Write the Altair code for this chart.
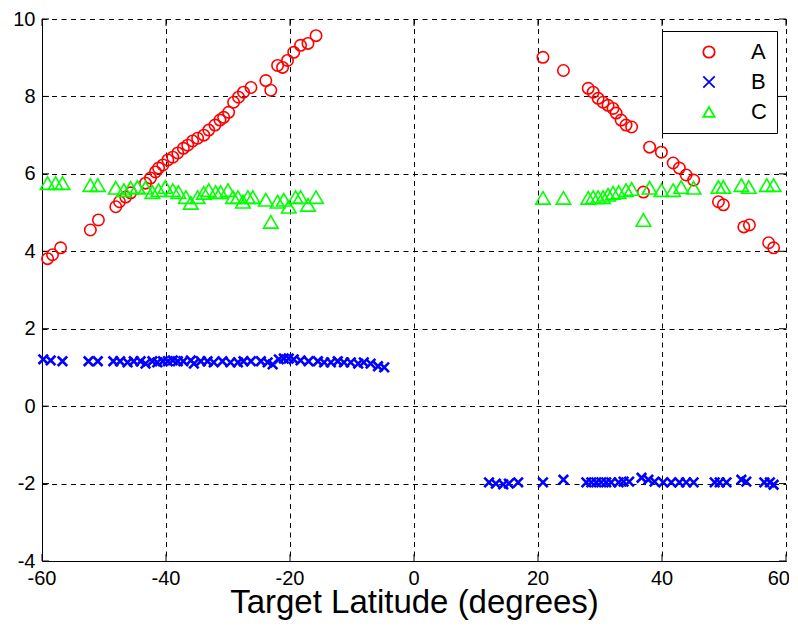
import altair as alt
import pandas as pd

series_names = ["A", "B", "C"]

a_lat = [-59.1, -58.3, -57.0, -52.2, -50.9, -48.1, -47.5, -46.5, -45.7, -43.3,
         -42.5, -41.7, -41.2, -40.5, -39.7, -38.9, -38.1, -37.2, -36.5, -35.7,
         -34.9, -33.9, -33.1, -32.1, -31.3, -30.7, -29.9, -29.1, -28.3, -27.5,
         -26.3, -23.9, -23.1, -22.0, -21.2, -20.4, -19.4, -18.3, -17.1, -15.8,
         20.8, 24.1, 28.1, 28.9, 29.7, 30.5, 31.3, 32.1, 32.6, 33.4,
         34.2, 35.1, 37.0, 38.0, 39.9, 41.8, 42.8, 43.9, 45.1, 49.1,
         49.9, 53.2, 54.1, 57.2, 58.0]
a_val = [3.81, 3.91, 4.09, 4.55, 4.81, 5.15, 5.28, 5.40, 5.51, 5.76,
         5.89, 6.05, 6.15, 6.23, 6.36, 6.43, 6.54, 6.66, 6.74, 6.85,
         6.92, 7.00, 7.13, 7.26, 7.39, 7.46, 7.59, 7.85, 7.98, 8.11,
         8.23, 8.41, 8.16, 8.80, 8.75, 8.93, 9.14, 9.32, 9.37, 9.57,
         9.01, 8.67, 8.21, 8.11, 7.95, 7.85, 7.77, 7.69, 7.57, 7.39,
         7.26, 7.21, 5.53, 6.69, 6.56, 6.28, 6.15, 5.97, 5.84, 5.28,
         5.20, 4.63, 4.68, 4.22, 4.09]

b_lat = [-59.8, -58.6, -56.7, -52.5, -51.0, -48.5, -47.4, -46.2, -45.2, -44.1,
         -43.3, -42.2, -41.4, -40.5, -39.7, -38.9, -38.1, -37.2, -36.0, -35.5,
         -34.4, -33.3, -32.3, -30.9, -29.6, -28.4, -27.5, -26.3, -24.7, -23.6,
         -22.8, -21.8, -21.0, -20.2, -19.4, -18.3, -17.0, -15.5, -14.5, -13.4,
         -12.3, -11.3, -10.2, -9.0, -8.1, -7.0, -5.8, -4.8,
         12.1, 13.2, 14.4, 15.3, 16.8, 20.8, 24.1, 27.8, 28.6, 29.4,
         30.2, 31.0, 31.8, 33.0, 33.8, 34.7, 36.7, 37.8, 38.8, 40.2,
         41.5, 42.8, 43.9, 45.1, 48.5, 49.3, 50.4, 52.8, 53.6, 56.5,
         57.4, 58.0]
b_val = [1.21, 1.18, 1.16, 1.16, 1.16, 1.16, 1.16, 1.13, 1.16, 1.16,
         1.10, 1.16, 1.13, 1.16, 1.16, 1.18, 1.16, 1.16, 1.18, 1.10,
         1.16, 1.16, 1.13, 1.16, 1.13, 1.13, 1.16, 1.16, 1.16, 1.13,
         1.08, 1.21, 1.23, 1.23, 1.21, 1.18, 1.16, 1.16, 1.13, 1.13,
         1.16, 1.13, 1.13, 1.10, 1.13, 1.10, 1.03, 1.00,
         -1.97, -2.00, -2.02, -2.00, -1.97, -1.97, -1.90, -1.97, -1.97, -1.97,
         -1.97, -1.97, -1.97, -1.97, -1.95, -1.95, -1.85, -1.90, -1.95, -1.97,
         -1.97, -1.97, -1.97, -1.97, -1.97, -1.97, -1.97, -1.90, -1.95, -1.97,
         -1.97, -2.03]

c_lat = [-59.1, -57.8, -56.7, -52.2, -51.0, -48.1, -46.8, -45.7, -44.6, -43.3,
         -42.2, -41.2, -40.1, -38.9, -38.0, -36.8, -36.0, -34.9, -33.9, -33.1,
         -32.0, -31.2, -30.0, -29.2, -28.4, -27.6, -26.8, -26.0, -23.9, -23.1,
         -22.0, -21.0, -20.2, -19.1, -18.3, -17.1, -15.8,
         20.8, 24.1, 28.1, 28.9, 29.7, 30.5, 31.3, 32.1, 33.0, 34.2,
         35.1, 37.0, 38.0, 39.9, 41.8, 43.1, 45.1, 49.1, 49.9, 52.8,
         54.0, 56.9, 58.0]
c_val = [5.76, 5.76, 5.76, 5.71, 5.71, 5.64, 5.58, 5.64, 5.66, 5.64,
         5.53, 5.58, 5.66, 5.58, 5.53, 5.40, 5.25, 5.40, 5.51, 5.58,
         5.53, 5.53, 5.58, 5.40, 5.40, 5.28, 5.40, 5.40, 5.33, 4.76,
         5.28, 5.33, 5.15, 5.40, 5.40, 5.20, 5.40,
         5.38, 5.38, 5.38, 5.40, 5.40, 5.40, 5.46, 5.51, 5.53, 5.58,
         5.61, 4.81, 5.64, 5.58, 5.58, 5.66, 5.64, 5.66, 5.66, 5.71,
         5.66, 5.71, 5.71]

x_ticks = [-60, -40, -20, 0, 20, 40, 60]
x_tick_labels = ["-60", "-40", "-20", "0", "20", "40", "60"]
y_ticks = [-4, -2, 0, 2, 4, 6, 8, 10]

df = pd.concat([
    pd.DataFrame({"lat": a_lat, "val": a_val, "series": "A"}),
    pd.DataFrame({"lat": b_lat, "val": b_val, "series": "B"}),
    pd.DataFrame({"lat": c_lat, "val": c_val, "series": "C"}),
], ignore_index=True)

W, H = 744, 542
FONT = "Liberation Sans"
TICK = 7

x_scale = alt.Scale(domain=[-60, 60], nice=False, zero=False)
y_scale = alt.Scale(domain=[-4, 10], nice=False, zero=False)

X_PATH = "M-1,-1L1,1M-1,1L1,-1"
shape_scale = alt.Scale(domain=series_names, range=["circle", X_PATH, "triangle-up"])
color_scale = alt.Scale(domain=series_names, range=["#ff0000", "#0000ff", "#00ff00"])

x_axis = alt.Axis(values=x_ticks, grid=True, gridColor="black", gridDash=[5, 4.5],
                  gridWidth=1, domainColor="black", domainWidth=1, ticks=False,
                  labels=False,
                  titleFont=FONT, titleFontSize=33, titleFontWeight="normal",
                  titleColor="black", titlePadding=25)
y_axis = alt.Axis(values=y_ticks, grid=True, gridColor="black", gridDash=[5, 4.5],
                  gridWidth=1, domainColor="black", domainWidth=1, ticks=False,
                  labelFont=FONT, labelFontSize=20, labelColor="black", labelPadding=7,
                  labelFlush=False, labelOverlap=False, labelExpr="'' + datum.value")

X_TITLE = "Target Latitude (degrees)"

legend = alt.Legend(title=None, orient="none", legendX=620, legendY=12, padding=10,
                    symbolOffset=26, labelOffset=31, rowPadding=8,
                    labelFont=FONT, labelFontSize=22, labelColor="black", labelLimit=100,
                    symbolSize=130, symbolStrokeWidth=1.8,
                    strokeColor="black", fillColor="white")

def series_layer(name, size, sw):
    return alt.Chart(df).transform_filter(alt.datum.series == name).mark_point(
        filled=False, size=size, strokeWidth=sw, opacity=1
    ).encode(
        x=alt.X("lat:Q", scale=x_scale, axis=x_axis, title=X_TITLE),
        y=alt.Y("val:Q", scale=y_scale, axis=y_axis, title=None),
        color=alt.Color("series:N", scale=color_scale, legend=legend),
        shape=alt.Shape("series:N", scale=shape_scale, legend=legend),
    )

ydf = pd.DataFrame({"v": y_ticks})
xdf = pd.DataFrame({"v": x_ticks, "lbl": x_tick_labels})

left_ticks = alt.Chart(ydf).mark_rule(color="black", strokeWidth=1).encode(
    y=alt.Y("v:Q", scale=y_scale, axis=y_axis, title=None),
    x=alt.value(0), x2=alt.value(TICK))
right_ticks = alt.Chart(ydf).mark_rule(color="black", strokeWidth=1).encode(
    y=alt.Y("v:Q", scale=y_scale, axis=y_axis, title=None),
    x=alt.value(W - TICK), x2=alt.value(W))
bottom_ticks = alt.Chart(xdf).mark_rule(color="black", strokeWidth=1).encode(
    x=alt.X("v:Q", scale=x_scale, axis=x_axis, title=X_TITLE),
    y=alt.value(H), y2=alt.value(H - TICK))
top_ticks = alt.Chart(xdf).mark_rule(color="black", strokeWidth=1).encode(
    x=alt.X("v:Q", scale=x_scale, axis=x_axis, title=X_TITLE),
    y=alt.value(0), y2=alt.value(TICK))

x_labels_mid = alt.Chart(xdf).transform_filter("datum.v < 60").mark_text(
    font=FONT, fontSize=20, color="black", baseline="top", align="center", dy=8
).encode(
    x=alt.X("v:Q", scale=x_scale, axis=x_axis, title=X_TITLE),
    y=alt.value(H), text="lbl:N")
x_labels_end = alt.Chart(xdf).transform_filter("datum.v >= 60").mark_text(
    font=FONT, fontSize=20, color="black", baseline="top", align="right", dx=4, dy=8
).encode(
    x=alt.X("v:Q", scale=x_scale, axis=x_axis, title=X_TITLE),
    y=alt.value(H), text="lbl:N")

chart = alt.layer(
    left_ticks, right_ticks, bottom_ticks, top_ticks, x_labels_mid, x_labels_end,
    series_layer("A", 130, 1.6),
    series_layer("B", 90, 2.6),
    series_layer("C", 210, 1.6),
).properties(
    width=W, height=H,
    padding={"left": 34, "top": 11, "right": 3, "bottom": 63},
    autosize=alt.AutoSizeParams(type="none"),
    background="white",
).configure_view(strokeWidth=0)

chart.save("out.html", embed_options={"renderer": "svg", "actions": False})
